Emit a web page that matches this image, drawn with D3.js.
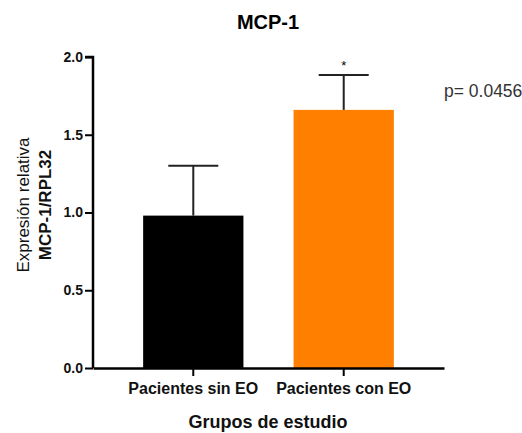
<!DOCTYPE html>
<html>
<head>
<meta charset="utf-8">
<script src="https://cdn.jsdelivr.net/npm/d3@7"></script>
<style>
  body { margin: 0; background: #fff; }
  text { font-family: "Liberation Sans", Arial, sans-serif; }
</style>
</head>
<body>
<div id="chart"></div>
<script>
const groups = ["Pacientes sin EO", "Pacientes con EO"];
const means = [0.98, 1.66];
const errors = [0.32, 0.225];
const colors = ["#000000", "#ff8000"];
const yTicks = [0, 0.5, 1.0, 1.5, 2.0];

const width = 522, height = 433;
const margin = {top: 57, right: 78, bottom: 65, left: 93};

const svg = d3.select("#chart").append("svg")
    .attr("width", width)
    .attr("height", height);

const g = svg.append("g").attr("transform", `translate(${margin.left},${margin.top})`);
const innerW = width - margin.left - margin.right;
const innerH = height - margin.top - margin.bottom;

const x = d3.scaleBand().domain(groups).range([0, innerW]).paddingInner(1 / 3).paddingOuter(1 / 3);
const y = d3.scaleLinear().domain([0, 2]).range([innerH, 0]);

// bars
g.selectAll(".bar")
    .data(groups)
    .enter().append("rect")
    .attr("x", d => x(d))
    .attr("y", (d, i) => y(means[i]))
    .attr("width", x.bandwidth())
    .attr("height", (d, i) => innerH - y(means[i]))
    .attr("fill", (d, i) => colors[i]);

// error bars (upper only)
const capW = 50;
groups.forEach((d, i) => {
    const cx = x(d) + x.bandwidth() / 2;
    g.append("line")
        .attr("x1", cx).attr("x2", cx)
        .attr("y1", y(means[i])).attr("y2", y(means[i] + errors[i]))
        .attr("stroke", "#222").attr("stroke-width", 2);
    g.append("line")
        .attr("x1", cx - capW / 2).attr("x2", cx + capW / 2)
        .attr("y1", y(means[i] + errors[i])).attr("y2", y(means[i] + errors[i]))
        .attr("stroke", "#222").attr("stroke-width", 2);
});

// significance star
g.append("text")
    .attr("x", x(groups[1]) + x.bandwidth() / 2)
    .attr("y", y(means[1] + errors[1]) - 5)
    .attr("text-anchor", "middle")
    .attr("font-size", "13px")
    .text("*");

// axes
const yAxis = g.append("g")
    .call(d3.axisLeft(y).tickValues(yTicks).tickFormat(d3.format(".1f")).tickSize(8).tickPadding(2));
yAxis.select(".domain").attr("stroke-width", 2.5).attr("d", `M0,${innerH}V0H-8`);
yAxis.selectAll(".tick line").attr("stroke-width", 2);
yAxis.selectAll(".tick text").attr("font-size", "14px").attr("font-weight", "bold")
    .attr("font-family", "Liberation Sans, Arial, sans-serif").attr("fill", "#111");

const xAxis = g.append("g")
    .attr("transform", `translate(0,${innerH})`)
    .call(d3.axisBottom(x).tickSize(8).tickSizeOuter(0).tickPadding(7));
xAxis.select(".domain").attr("stroke-width", 2.5);
xAxis.selectAll(".tick line").attr("stroke-width", 2);
xAxis.selectAll(".tick text").attr("font-size", "16px").attr("font-weight", "bold")
    .attr("font-family", "Liberation Sans, Arial, sans-serif").attr("fill", "#111");

// title
svg.append("text")
    .attr("x", 268).attr("y", 29)
    .attr("text-anchor", "middle")
    .attr("font-size", "20px")
    .attr("font-weight", "bold")
    .text("MCP-1");

// p value
svg.append("text")
    .attr("x", 444).attr("y", 97)
    .attr("font-size", "17.5px")
    .attr("fill", "#333")
    .text("p= 0.0456");

// axis titles
svg.append("text")
    .attr("x", 268).attr("y", 428)
    .attr("text-anchor", "middle")
    .attr("font-size", "18px")
    .attr("font-weight", "bold")
    .attr("fill", "#111")
    .text("Grupos de estudio");

const yl = svg.append("text")
    .attr("transform", `translate(29,205) rotate(-90)`)
    .attr("text-anchor", "middle")
    .attr("font-size", "17px")
    .attr("fill", "#111");
yl.append("tspan").attr("x", 0).attr("dy", 0).text("Expresión relativa");
yl.append("tspan").attr("x", 0).attr("dy", "1.3em").attr("font-weight", "bold").text("MCP-1/RPL32");
</script>
</body>
</html>
